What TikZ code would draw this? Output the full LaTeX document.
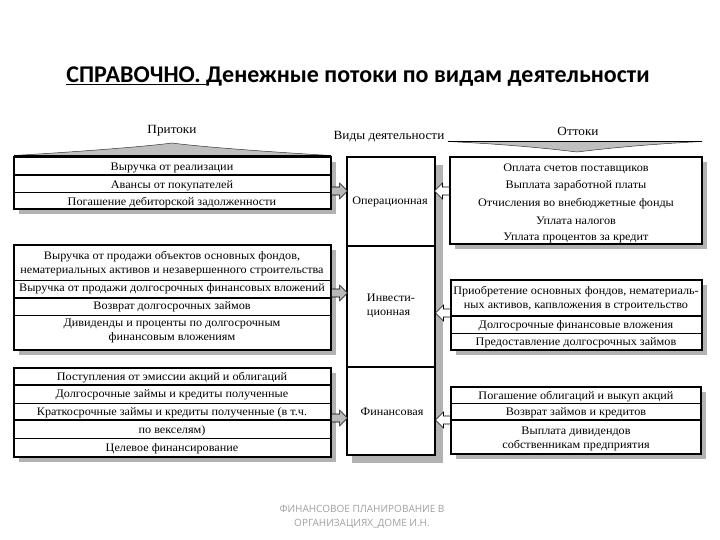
\documentclass[tikz,border=0pt]{standalone}
\usepackage{fontspec}
\setmainfont{Liberation Serif}[FakeStretch=1.06]
\newfontfamily\titlef{Carlito}
\newfontfamily\footf{Open Sans}
\usetikzlibrary{fit,shadows,calc}
\begin{document}
\begin{tikzpicture}[x=1pt,y=-1pt,
  box/.style={draw, line width=1.1pt, fill=white, inner sep=0pt,
    drop shadow={shadow xshift=5pt, shadow yshift=-5pt, fill=gray!60, opacity=1}},
  cbox/.style={draw, line width=1.1pt, fill=white, inner sep=0pt},
  txt/.style={font=\fontsize{11.5}{14}\selectfont, inner sep=0pt, align=center},
  hdr/.style={font=\fontsize{12.5}{14}\selectfont, inner sep=0pt},
  septhin/.style={line width=0.7pt},
  septhick/.style={line width=1.7pt},
  bracefill/.style={fill=gray!50},
  inarr/.pic={\draw[line width=0.6pt, fill=gray!55] (0,-4) -- (8,-4) -- (8,-8) -- (16,0) -- (8,8) -- (8,4) -- (0,4) -- cycle;},
  outarr/.pic={\draw[line width=0.6pt, fill=white] (0,-4) -- (-7,-4) -- (-7,-8) -- (-15,0) -- (-7,8) -- (-7,4) -- (0,4) -- cycle;}
]
\useasboundingbox (0,0) rectangle (720,540);

% title
\node[font=\titlef\bfseries\fontsize{24}{28}\selectfont, inner sep=0pt] (title) at (358,77)
  {\underline{СПРАВОЧНО. }Денежные потоки по видам деятельности};

% headers
\node[hdr] (hin) at (172,131) {Притоки};
\node[hdr] (hmid) at (389,137) {Виды деятельности};
\node[hdr] (hout) at (578,131) {Оттоки};

% braces
\fill[bracefill] (14,155.5) .. controls (90,151) and (150,146) .. (172,143) .. controls (194,146) and (254,151) .. (331,155.5) -- cycle;
\draw[line width=0.5pt, gray!40!black] (14,155.5) .. controls (90,151) and (150,146) .. (172,143) .. controls (194,146) and (254,151) .. (331,155.5);
\draw[line width=1pt] (14,155.5) -- (331,155.5);
\fill[bracefill] (448,141.5) .. controls (520,145) and (560,150) .. (577,152) .. controls (594,150) and (634,145) .. (702,141.5) -- cycle;
\draw[line width=0.5pt, gray!40!black] (448,141.5) .. controls (520,145) and (560,150) .. (577,152) .. controls (594,150) and (634,145) .. (702,141.5);
\draw[line width=1pt] (448,141.5) -- (702,141.5);

% centre column
\fill[gray!60] (352,165) rectangle (443,463);
\node[cbox, fit={(347,157) (435,246)}] (C1) {};
\node[cbox, fit={(347,246) (435,367)}] (C2) {};
\node[cbox, fit={(347,367) (435,455)}] (C3) {};
\draw[septhick] (C2.north west) -- (C2.north east);
\node[txt] (c1t) at (390,202) {Операционная};
\node[txt, align=left] (c2t) at (391,306) {Инвести-\\ционная};
\node[txt] (c3t) at (392,412) {Финансовая};

% left boxes
\node[box, fit={(14,157) (331,209)}] (L1) {};
\draw[septhick] (L1.west |- 0,175) -- (L1.east |- 0,175);
\draw[septhin] (L1.west |- 0,192) -- (L1.east |- 0,192);
\node[txt] (l11) at (172,168) {Выручка от реализации};
\node[txt] (l12) at (172,185.5) {Авансы от покупателей};
\node[txt] (l13) at (172,202.5) {Погашение дебиторской задолженности};

\node[box, fit={(14,245) (331,350)}] (L2) {};
\draw[septhin] (L2.west |- 0,280) -- (L2.east |- 0,280);
\draw[septhick] (L2.west |- 0,298) -- (L2.east |- 0,298);
\draw[septhin] (L2.west |- 0,315) -- (L2.east |- 0,315);
\node[txt] (l21) at (172,264) {Выручка от продажи объектов основных фондов,\\нематериальных активов и незавершенного строительства};
\node[txt] (l22) at (172,289) {Выручка от продажи долгосрочных финансовых вложений};
\node[txt] (l23) at (172,306.5) {Возврат долгосрочных займов};
\node[txt] (l24) at (172,331) {Дивиденды и проценты по долгосрочным\\финансовым вложениям};

\node[box, fit={(14,368) (331,457)}] (L3) {};
\draw[septhick] (L3.west |- 0,385) -- (L3.east |- 0,385);
\draw[septhin] (L3.west |- 0,403) -- (L3.east |- 0,403);
\draw[septhick] (L3.west |- 0,420) -- (L3.east |- 0,420);
\draw[septhin] (L3.west |- 0,438) -- (L3.east |- 0,438);
\node[txt] (l31) at (172,378) {Поступления от эмиссии акций и облигаций};
\node[txt] (l32) at (172,395) {Долгосрочные займы и кредиты полученные};
\node[txt] (l33) at (172,413) {Краткосрочные займы и кредиты полученные (в т.ч.};
\node[txt] (l34) at (172,430.5) {по векселям)};
\node[txt] (l35) at (172,448.5) {Целевое финансирование};

% right boxes
\node[box, fit={(450,157) (702,244)}] (R1) {};
\node[txt] (r11) at (576,169) {Оплата счетов поставщиков};
\node[txt] (r12) at (576,186) {Выплата заработной платы};
\node[txt] (r13) at (576,203.5) {Отчисления во внебюджетные фонды};
\node[txt] (r14) at (576,220.5) {Уплата налогов};
\node[txt] (r15) at (576,237.5) {Уплата процентов за кредит};

\node[box, fit={(451,280) (702,350)}] (R2) {};
\draw[septhick] (R2.north west) -- (R2.north east);
\draw[septhick] (R2.west |- 0,316) -- (R2.east |- 0,316);
\draw[septhin] (R2.west |- 0,333) -- (R2.east |- 0,333);
\node[txt] (r21) at (576,298.5) {Приобретение основных фондов, нематериаль-\\ных активов, капвложения в строительство};
\node[txt] (r22) at (576,325.5) {Долгосрочные финансовые вложения};
\node[txt] (r23) at (576,342.5) {Предоставление долгосрочных займов};

\node[box, fit={(451,387) (701,454)}] (R3) {};
\draw[septhin] (R3.west |- 0,403) -- (R3.east |- 0,403);
\draw[septhick] (R3.west |- 0,420) -- (R3.east |- 0,420);
\node[txt] (r31) at (576,396.5) {Погашение облигаций и выкуп акций};
\node[txt] (r32) at (576,413) {Возврат займов и кредитов};
\node[txt] (r33) at (576,438.5) {Выплата дивидендов\\собственникам предприятия};

% arrows
\coordinate (a1) at (0,191);
\coordinate (a2) at (0,293);
\coordinate (a3) at (0,418);
\coordinate (b1) at (0,191);
\coordinate (b2) at (0,313);
\coordinate (b3) at (0,420);
\pic at (L1.east |- a1) {inarr};
\pic at (L2.east |- a2) {inarr};
\pic at (L3.east |- a3) {inarr};
\pic at (R1.west |- b1) {outarr};
\pic at (R2.west |- b2) {outarr};
\pic at (R3.west |- b3) {outarr};

% footer
\node[font=\footf\fontsize{10}{14}\selectfont, text=gray!75, align=center, inner sep=0pt] (foot) at (362,517)
  {ФИНАНСОВОЕ ПЛАНИРОВАНИЕ В\\ОРГАНИЗАЦИЯХ\_ДОМЕ И.Н.};
\end{tikzpicture}
\end{document}
